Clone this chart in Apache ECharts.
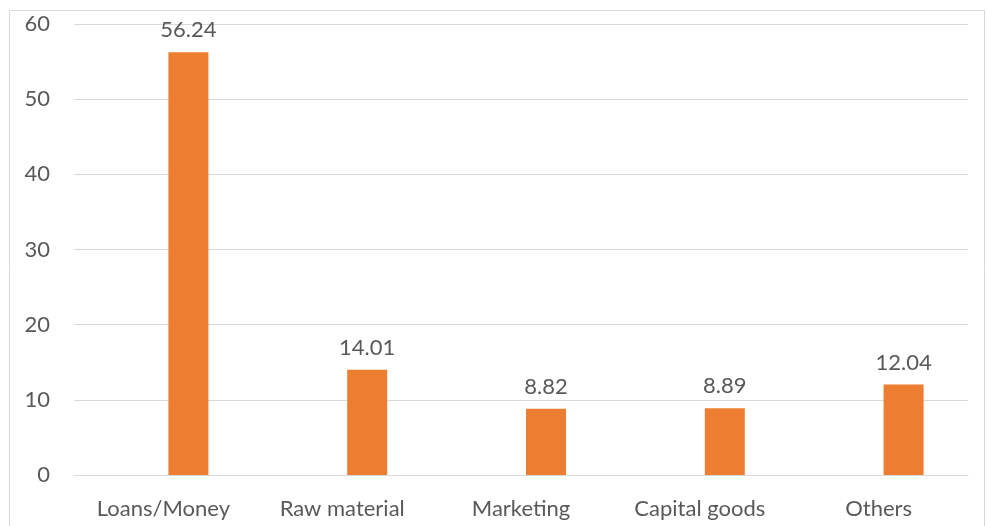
<!DOCTYPE html>
<html>
<head>
<meta charset="utf-8">
<script src="https://cdn.jsdelivr.net/npm/echarts@6/dist/echarts.min.js"></script>
<style>
  html, body { margin: 0; padding: 0; background: #fff; }
  #chart { width: 987px; height: 526px; }
</style>
</head>
<body>
<div id="chart"></div>
<script>
// categories and values
var categories = ['Loans/Money', 'Raw material', 'Marketing', 'Capital goods', 'Others'];
var values = [56.24, 14.01, 8.82, 8.89, 12.04];
// first series of the Excel cluster is empty, which pushes the bars right
var emptySeries = [];

var textColor = '#595959';
var lineColor = '#d9d9d9';
var fontFamily = 'Lato, "Open Sans", sans-serif';

var myChart = echarts.init(document.getElementById('chart'));

var option = {
  animation: false,
  graphic: [{
    type: 'rect',
    shape: { x: 9.5, y: 10.5, width: 975, height: 530 },
    style: { fill: 'none', stroke: lineColor, lineWidth: 1 },
    silent: true
  }],
  grid: {
    left: 74,
    right: 19,
    top: 24,
    bottom: 51
  },
  xAxis: {
    type: 'category',
    data: categories,
    axisLine: { show: true, lineStyle: { color: lineColor, width: 1 } },
    axisTick: { show: false },
    axisLabel: {
      color: textColor,
      fontFamily: fontFamily,
      fontSize: 22,
      margin: 23
    }
  },
  yAxis: {
    type: 'value',
    min: 0,
    max: 60,
    interval: 10,
    axisLine: { show: false },
    axisTick: { show: false },
    splitLine: { lineStyle: { color: lineColor, width: 1 } },
    axisLabel: {
      color: textColor,
      fontFamily: fontFamily,
      fontSize: 22,
      margin: 24
    }
  },
  series: [
    {
      name: 'empty',
      type: 'bar',
      data: emptySeries,
      barWidth: 40,
      barGap: '25%'
    },
    {
      name: 'value',
      type: 'bar',
      data: values,
      barWidth: 40,
      barGap: '25%',
      itemStyle: { color: '#ed7d31' },
      label: {
        show: true,
        position: 'top',
        distance: 11,
        color: textColor,
        fontFamily: fontFamily,
        fontSize: 22
      }
    }
  ]
};

myChart.setOption(option);
</script>
</body>
</html>
